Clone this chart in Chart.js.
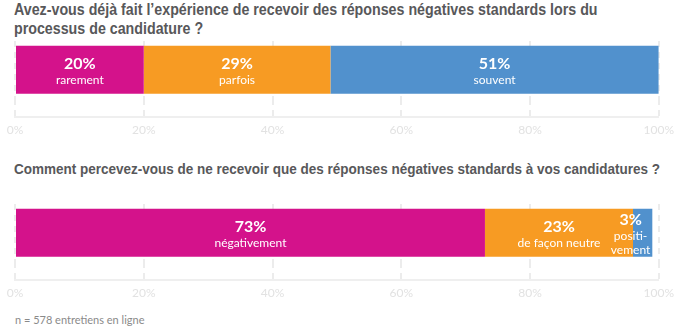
<!DOCTYPE html>
<html lang="fr">
<head>
<meta charset="utf-8">
<script src="https://cdn.jsdelivr.net/npm/chart.js@4.4.1/dist/chart.umd.min.js"></script>
<style>
  html, body { margin: 0; padding: 0; background: #fff; }
  #page { position: relative; width: 680px; height: 326px; overflow: hidden; }
  .question {
    position: absolute; left: 14px; margin: 0; white-space: nowrap;
    font: bold 16px/19px 'Liberation Sans', Arial, sans-serif;
    color: #58585a;
    transform: scaleX(0.89); transform-origin: 0 0;
  }
  .question.small { font-size: 15px; transform: scaleX(0.9); }
  .chart-box { position: absolute; left: 0; width: 680px; height: 107px; }
  .note {
    position: absolute; left: 15px; top: 313px;
    font: 11px/13.2px Lato, sans-serif; color: #8a8a8a;
  }
</style>
</head>
<body>
<div id="page">
  <h2 class="question" style="top:0px">Avez-vous déjà fait l’expérience de recevoir des réponses négatives standards lors du<br>processus de candidature ?</h2>
  <div class="chart-box" style="top:36px"><canvas id="q1Chart"></canvas></div>
  <h2 class="question small" style="top:159px">Comment percevez-vous de ne recevoir que des réponses négatives standards à vos candidatures ?</h2>
  <div class="chart-box" style="top:199px"><canvas id="q2Chart"></canvas></div>
  <div class="note">n = 578 entretiens en ligne</div>
</div>

<script>
// ── DATA ─────────────────────────────────────────────────────────
const Q1_LABELS = ['rarement', 'parfois', 'souvent'];
const Q1_VALUES = [20, 29, 51];
const Q2_LABELS = ['négativement', 'de façon neutre', 'positi-\nvement'];
const Q2_VALUES = [73, 23, 3];
const X_TICKS   = [0, 20, 40, 60, 80, 100];
const SEG_COLORS = ['#d4128b', '#f79b23', '#5191cd'];

const GRID_COLOR = '#ececec';

// value + answer text written in white inside each segment
const segmentLabels = {
  id: 'segmentLabels',
  afterDatasetsDraw(chart) {
    const ctx = chart.ctx;
    ctx.save();
    ctx.fillStyle = '#fff';
    ctx.textAlign = 'center';
    ctx.textBaseline = 'alphabetic';
    chart.data.datasets.forEach((ds, i) => {
      const bar = chart.getDatasetMeta(i).data[0];
      if (!bar) return;
      const { x, y, base } = bar.getProps(['x', 'y', 'base'], true);
      const lines = [ds.data[0] + '%', ...ds.label.split('\n')];
      const fonts = lines.map((_, k) => k === 0 ? 'bold 16px Lato' : '12px Lato');
      let w = 0;
      lines.forEach((t, k) => { ctx.font = fonts[k]; w = Math.max(w, ctx.measureText(t).width); });
      // keep text inside the chart when the segment is too thin
      let cx = (x + base) / 2;
      if (w > x - base - 4) cx = x - 2 - w / 2;
      const steps = lines.map((_, k) => k === 0 ? 0 : (k === 1 ? 15 : 14));
      const blockH = 11 + steps.reduce((a, b) => a + b, 0);
      let by = y + 1 - blockH / 2 + 11;
      lines.forEach((t, k) => {
        by += steps[k];
        ctx.font = fonts[k];
        ctx.fillText(t, cx, by);
      });
    });
    ctx.restore();
  }
};

const setTicks = scale => { scale.ticks = X_TICKS.map(v => ({ value: v })); };

function makeStackedBar(canvasId, labels, values) {
  return new Chart(document.getElementById(canvasId), {
    type: 'bar',
    data: {
      labels: [''],
      datasets: labels.map((name, i) => ({
        label: name,
        data: [values[i]],
        backgroundColor: SEG_COLORS[i],
        borderWidth: 0,
        barPercentage: 0.835,
        categoryPercentage: 1
      }))
    },
    options: {
      indexAxis: 'y',
      responsive: true,
      maintainAspectRatio: false,
      animation: false,
      layout: { padding: { top: 5, left: 15, right: 20, bottom: 0 } },
      plugins: { legend: { display: false }, tooltip: { enabled: false } },
      scales: {
        y: { stacked: true, display: false },
        // dashed grid, continued below the bar by the tick marks
        x: {
          stacked: true, min: 0, max: 100,
          afterBuildTicks: setTicks,
          grid: {
            color: GRID_COLOR, lineWidth: 2,
            drawTicks: true, tickLength: 18,
            tickColor: GRID_COLOR, tickWidth: 2, tickBorderDash: [6, 5]
          },
          border: { display: false, dash: [6, 5] },
          ticks: { display: false }
        },
        // baseline + percentage labels
        xAxis2: {
          type: 'linear', position: 'bottom', weight: 1, min: 0, max: 100,
          afterBuildTicks: setTicks,
          grid: { display: false, drawTicks: false },
          border: { display: true, color: '#efefef', width: 2 },
          ticks: {
            padding: 6, color: '#e2e2e2',
            font: { family: 'Lato', size: 12 },
            callback: v => v + '%'
          }
        }
      }
    },
    plugins: [segmentLabels]
  });
}

makeStackedBar('q1Chart', Q1_LABELS, Q1_VALUES);
makeStackedBar('q2Chart', Q2_LABELS, Q2_VALUES);
</script>
</body>
</html>
